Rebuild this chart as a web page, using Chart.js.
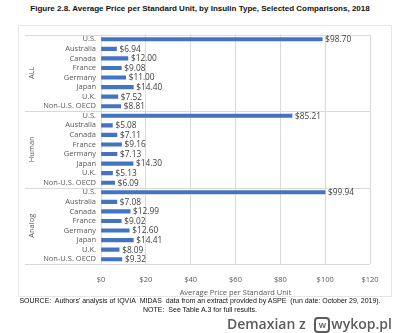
<!DOCTYPE html>
<html>
<head>
<meta charset="utf-8">
<script src="https://cdn.jsdelivr.net/npm/chart.js@4"></script>
<style>
  body { margin: 0; width: 400px; height: 333px; background: #fff; position: relative; overflow: hidden; font-family: "Liberation Sans", Arial, sans-serif; }
  #title { position: absolute; top: 4px; left: 0; width: 400px; text-align: center; font-weight: bold; font-size: 8px; color: #111; }
  #box { position: absolute; left: 18px; top: 25px; width: 374px; height: 272px; border: 1px solid #e6e6e6; box-sizing: border-box; }
  #wrap { position: absolute; left: 18px; top: 25px; width: 374px; height: 272px; }
  #source { position: absolute; top: 296px; left: 0; width: 400px; text-align: center; font-size: 7px; line-height: 9px; color: #111; }
  #mark { position: absolute; right: 8px; top: 314px; font-family: "Open Sans", sans-serif; font-weight: 600; font-size: 14px; color: #5c5c5c; }
  #mark .ico { display: inline-block; width: 12px; height: 12px; border: 2px solid #5c5c5c; border-radius: 4px; font-size: 9px; line-height: 11px; text-align: center; vertical-align: 1px; margin: 0 1px 0 5px; }
</style>
</head>
<body>
<div id="title">Figure 2.8. Average Price per Standard Unit, by Insulin Type, Selected Comparisons, 2018</div>
<div id="box"></div>
<div id="wrap"><canvas id="chart"></canvas></div>
<div id="source">SOURCE:&nbsp; Authors' analysis of IQVIA&nbsp; MIDAS&nbsp; data from an extract provided by ASPE&nbsp; (run date: October 29, 2019).<br>NOTE:&nbsp; See Table A.3 for full results.</div>
<div id="mark">Demaxian z <span class="ico">w</span>wykop.pl</div>
<script>
const groups = ['ALL', 'Human', 'Analog'];
const countries = ['U.S.', 'Australia', 'Canada', 'France', 'Germany', 'Japan', 'U.K.', 'Non-U.S. OECD'];
const allValues = [98.70, 6.94, 12.00, 9.08, 11.00, 14.40, 7.52, 8.81];
const humanValues = [85.21, 5.08, 7.11, 9.16, 7.13, 14.30, 5.13, 6.09];
const analogValues = [99.94, 7.08, 12.99, 9.02, 12.60, 14.41, 8.09, 9.32];
const xTicks = [0, 20, 40, 60, 80, 100, 120];

const labels = [].concat(countries, countries, countries);
const values = [].concat(allValues, humanValues, analogValues);

// draws group names, separator lines and value labels
const groupPlugin = {
    id: 'groups',
    afterDraw(chart) {
        const ctx = chart.ctx;
        const area = chart.chartArea;
        const y = chart.scales.y;
        const n = countries.length;
        ctx.save();
        ctx.strokeStyle = '#d9d9d9';
        ctx.lineWidth = 1;
        const edges = [area.top];
        for (let g = 1; g < groups.length; g++) {
            edges.push((y.getPixelForValue(g * n - 1) + y.getPixelForValue(g * n)) / 2);
        }
        edges.push(area.bottom);
        edges.forEach(e => {
            const yy = Math.round(e) + 0.5;
            ctx.beginPath();
            ctx.moveTo(7, yy);
            ctx.lineTo(area.right, yy);
            ctx.stroke();
        });
        ctx.fillStyle = '#595959';
        ctx.font = '7.5px "Open Sans", sans-serif';
        ctx.textAlign = 'center';
        ctx.textBaseline = 'middle';
        groups.forEach((g, i) => {
            const mid = (edges[i] + edges[i + 1]) / 2;
            ctx.save();
            ctx.translate(14, mid);
            ctx.rotate(-Math.PI / 2);
            ctx.fillText(g, 0, 0);
            ctx.restore();
        });
        // value labels
        ctx.fillStyle = '#404040';
        ctx.font = '8.3px "Open Sans", sans-serif';
        ctx.textAlign = 'left';
        chart.getDatasetMeta(0).data.forEach((bar, i) => {
            ctx.fillText('$' + values[i].toFixed(2), bar.x + 3, bar.y + 0.5);
        });
        ctx.restore();
    }
};

new Chart(document.getElementById('chart'), {
    type: 'bar',
    data: {
        labels: labels,
        datasets: [{
            data: values,
            backgroundColor: '#4472c4',
            barThickness: 3.5
        }]
    },
    options: {
        indexAxis: 'y',
        responsive: true,
        maintainAspectRatio: false,
        animation: false,
        layout: { padding: { top: 3, right: 22, left: 0, bottom: 0 } },
        plugins: { legend: { display: false }, tooltip: { enabled: false } },
        scales: {
            x: {
                min: 0,
                max: 120,
                afterBuildTicks: scale => { scale.ticks = xTicks.map(v => ({ value: v })); },
                ticks: {
                    callback: v => '$' + v,
                    color: '#595959',
                    font: { family: 'Open Sans', size: 7.5 },
                    padding: 11
                },
                grid: { color: '#d9d9d9', drawTicks: false },
                border: { display: false },
                title: {
                    display: true,
                    text: 'Average Price per Standard Unit',
                    color: '#595959',
                    font: { family: 'Open Sans', size: 7.5 },
                    padding: { top: 0, bottom: 0 }
                },
                afterFit: scale => { scale.height = 33; }
            },
            y: {
                ticks: {
                    autoSkip: false,
                    color: '#595959',
                    font: { family: 'Open Sans', size: 7.5 },
                    padding: 5
                },
                grid: { display: false, drawTicks: false },
                border: { display: false },
                afterFit: scale => { scale.width = 83; }
            }
        }
    },
    plugins: [groupPlugin]
});
</script>
</body>
</html>
